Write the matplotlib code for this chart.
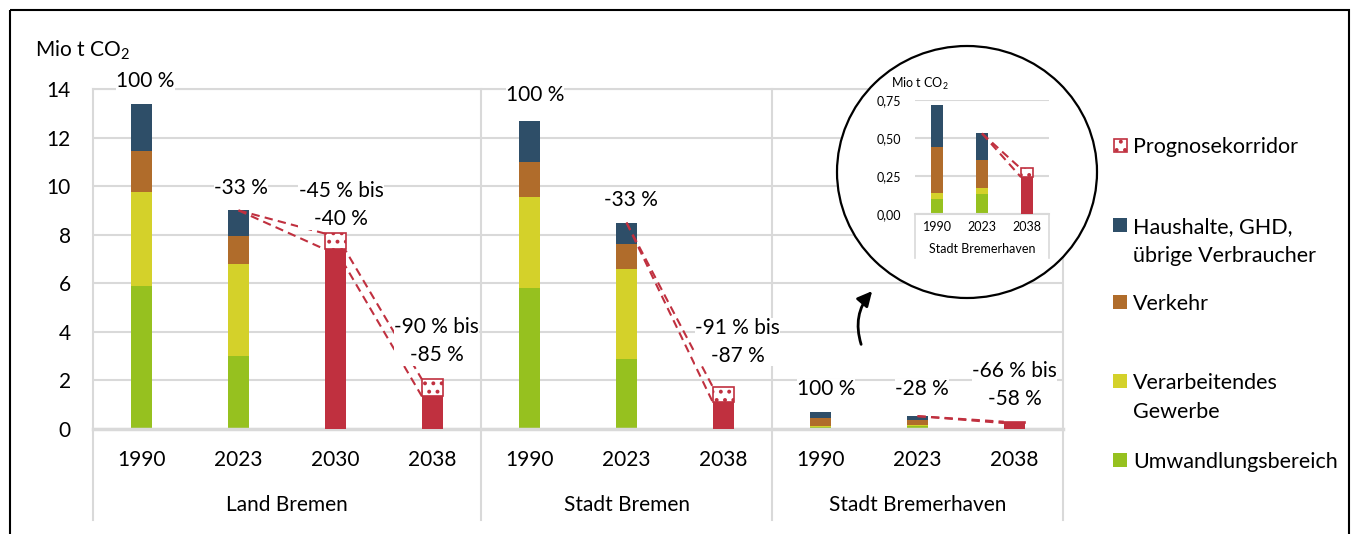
import matplotlib.pyplot as plt
from matplotlib.patches import Rectangle, Ellipse
import matplotlib.transforms as mtransforms
import numpy as np

plt.rcParams['font.family'] = ['Lato', 'DejaVu Sans']
plt.rcParams['mathtext.default'] = 'regular'
plt.rcParams['hatch.linewidth'] = 1.6

# Daten (Mio t CO2)
years = ['1990', '2023', '2030', '2038', '1990', '2023', '2038', '1990', '2023', '2038']
groups = ['Land Bremen', 'Stadt Bremen', 'Stadt Bremerhaven']
group_sizes = [4, 3, 3]

umwandlung = [5.9, 3.0, 0, 0, 5.8, 2.9, 0, 0.10, 0.13, 0]
gewerbe = [3.85, 3.8, 0, 0, 3.75, 3.7, 0, 0.04, 0.04, 0]
verkehr = [1.7, 1.15, 0, 0, 1.45, 1.0, 0, 0.30, 0.185, 0]
haushalte = [1.95, 1.05, 0, 0, 1.7, 0.9, 0, 0.28, 0.175, 0]
prognose_unten = [0, 0, 7.4, 1.35, 0, 0, 1.1, 0, 0, 0.245]
prognose_oben = [0, 0, 8.05, 2.05, 0, 0, 1.73, 0, 0, 0.30]
pct_labels = ['100 %', '-33 %', '-45 % bis\n-40 %', '-90 % bis\n-85 %',
              '100 %', '-33 %', '-91 % bis\n-87 %',
              '100 %', '-28 %', '-66 % bis\n-58 %']
connectors = [(1, 2), (2, 3), (5, 6), (8, 9)]

series_names = ['Umwandlungsbereich', 'Verarbeitendes\nGewerbe', 'Verkehr',
                'Haushalte, GHD,\nübrige Verbraucher']
series_colors = ['#96C11F', '#D4D12A', '#B06C2B', '#2E4E68']
red = '#C0303F'
grid_c = '#D9D9D9'
fs = 15

# Versatz der Beschriftungen über den Säulen (pt)
label_dx = [3, 2, 4, 3, 4, 3, 10, 4, 3, 0]
label_dy = [9, 9, 3, 10, 11, 9, 15, 9, 12, 9]

W, H = 1357, 534
fig = plt.figure(figsize=(W / 100, H / 100), dpi=100)
ax = fig.add_axes([93 / W, 1 - 429 / H, 970 / W, 340 / H])

x = np.arange(len(years))
w = 0.22
stack = [umwandlung, gewerbe, verkehr, haushalte]


def draw_bars(a, idx, width):
    pos = np.arange(len(idx))
    bottom = np.zeros(len(idx))
    for vals, col in zip(stack, series_colors):
        v = np.array([vals[i] for i in idx])
        a.bar(pos, v, width, bottom=bottom, color=col, zorder=2)
        bottom += v
    lo = np.array([prognose_unten[i] for i in idx])
    hi = np.array([prognose_oben[i] for i in idx])
    m = hi > 0
    a.bar(pos[m], lo[m], width, color=red, zorder=3)
    a.bar(pos[m], (hi - lo)[m], width, bottom=lo[m], color='white',
          edgecolor=red, hatch='..', lw=1.2, zorder=3)
    return bottom


def draw_connectors(a, idx, width, lw):
    totals = [sum(s[i] for s in stack) for i in range(len(years))]
    pos = {g: k for k, g in enumerate(idx)}
    for s, t in connectors:
        if s not in pos or t not in pos:
            continue
        for tgt in (prognose_oben, prognose_unten):
            sv = totals[s] if totals[s] > 0 else tgt[s]
            a.plot([pos[s], pos[t] - width / 2], [sv, tgt[t]], color=red, lw=lw,
                   ls=(0, (4, 2.5)), zorder=2.5)


tops = draw_bars(ax, list(range(len(years))), w)
draw_connectors(ax, list(range(len(years))), w, 1.5)

for i, lab in enumerate(pct_labels):
    top = max(tops[i], prognose_oben[i])
    ax.annotate(lab, (i, top), xytext=(label_dx[i], label_dy[i]), textcoords='offset points',
                ha='center', va='bottom', fontsize=fs, linespacing=1.5,
                bbox=dict(fc='white', ec='none', pad=0.2), zorder=4)

ax.set_xlim(-0.5, len(years) - 0.5)
ax.set_ylim(0, 14)
ax.set_yticks(np.arange(0, 15, 2))
ax.set_xticks(x)
ax.set_xticklabels(years)
ax.tick_params(axis='both', length=0, labelsize=fs)
ax.tick_params(axis='x', pad=15)
ax.tick_params(axis='y', pad=16)
ax.yaxis.grid(True, color=grid_c, lw=1.5)
ax.set_axisbelow(True)
for sp in ['left', 'right']:
    ax.spines[sp].set_visible(False)
ax.spines['top'].set_color(grid_c)
ax.spines['top'].set_linewidth(1.5)
ax.spines['bottom'].set_color(grid_c)
ax.spines['bottom'].set_linewidth(2.5)

trans = mtransforms.blended_transform_factory(ax.transData, ax.transAxes)
edges = np.concatenate([[0], np.cumsum(group_sizes)]) - 0.5
for e in edges:
    ax.plot([e, e], [-0.268, 1], transform=trans, color=grid_c, lw=1.5, clip_on=False, zorder=1)
for g, a0, a1 in zip(groups, edges[:-1], edges[1:]):
    ax.text((a0 + a1) / 2, -0.224, g, transform=trans, ha='center', va='center', fontsize=fs)

# Overlay: Rahmen, Kreis, Pfeil, Legende
ov = fig.add_axes([0, 0, 1, 1], zorder=5)
ov.set_xlim(0, W)
ov.set_ylim(H, 0)
ov.axis('off')
ov.add_patch(Rectangle((9.5, 9.5), 1339, 700, fill=False, ec='black', lw=1.5))
ov.add_patch(Ellipse((967, 172), 260, 252, fc='white', ec='black', lw=1.6))
ov.annotate('', xy=(874, 289), xytext=(862, 347),
            arrowprops=dict(arrowstyle='-|>', connectionstyle='arc3,rad=-0.3',
                            color='black', lw=2, mutation_scale=22))
ov.text(35, 50, 'Mio t CO$_2$', fontsize=fs, ha='left', va='center')

leg_y = [145, 225, 302, 381, 460]
leg_labels = ['Prognosekorridor'] + series_names[::-1]
leg_cols = [None] + series_colors[::-1]
for yy, lab, col in zip(leg_y, leg_labels, leg_cols):
    if col is None:
        ov.add_patch(Rectangle((1114, yy - 6.5), 13, 13, fc='white', ec=red, lw=1.2, hatch='..'))
    else:
        ov.add_patch(Rectangle((1113, yy - 7), 14, 14, fc=col, ec='none'))
    ov.text(1133, yy - 8, lab, fontsize=15.5, ha='left', va='top', linespacing=1.55)

# Inset Bremerhaven
idx = [7, 8, 9]
iax = fig.add_axes([915 / W, 1 - 214 / H, 134 / W, 114 / H], zorder=6)
iax.set_facecolor('none')
iw = 0.27
draw_bars(iax, idx, iw)
draw_connectors(iax, idx, iw, 1.5)
iax.set_xlim(-0.5, 2.5)
iax.set_ylim(0, 0.75)
iax.set_yticks([0, 0.25, 0.5, 0.75])
iax.set_yticklabels(['0,00', '0,25', '0,50', '0,75'])
iax.set_xticks(range(3))
iax.set_xticklabels([years[i] for i in idx])
iax.tick_params(axis='both', length=0, labelsize=9)
iax.tick_params(axis='x', pad=5)
iax.tick_params(axis='y', pad=10)
iax.yaxis.grid(True, color=grid_c, lw=1.5)
iax.set_axisbelow(True)
for sp in ['left', 'right', 'top']:
    iax.spines[sp].set_visible(False)
iax.spines['bottom'].set_color(grid_c)
iax.spines['bottom'].set_linewidth(1.5)
itrans = mtransforms.blended_transform_factory(iax.transAxes, iax.transAxes)
for e in [0, 1]:
    iax.plot([e, e], [-0.39, 0], transform=itrans, color=grid_c, lw=1.2, clip_on=False)
iax.text(0.5, -0.31, groups[2], transform=itrans, ha='center', va='center', fontsize=9)
iax.text(-0.18, 1.14, 'Mio t CO$_2$', transform=itrans, ha='left', va='center', fontsize=9)

fig.savefig('out.png', dpi=100)
